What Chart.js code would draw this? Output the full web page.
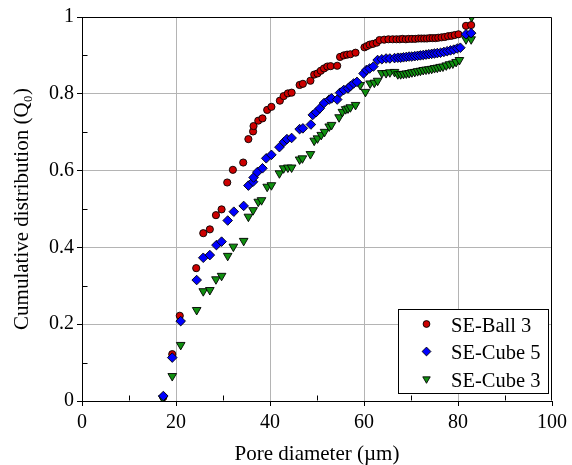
<!DOCTYPE html>
<html>
<head>
<meta charset="utf-8">
<script src="https://cdn.jsdelivr.net/npm/chart.js@4.4.1/dist/chart.umd.min.js"></script>
<style>
  html, body { margin: 0; padding: 0; background: #fff; }
  #c { display: block; }
</style>
</head>
<body>
<canvas id="c" width="572" height="465"></canvas>
<script>
// Pore diameter (µm) and cumulative distribution Q0 for each sample
const ballX = [17.3, 19.2, 20.8, 24.3, 25.8, 27.2, 28.5, 29.7, 30.9, 32.1, 34.3, 35.4, 36.4, 36.5, 37.5, 38.4, 39.4, 40.3, 42.1, 42.9, 43.8, 44.6, 46.3, 47.0, 48.6, 49.4, 50.1, 50.8, 51.5, 52.2, 52.9, 54.3, 54.9, 55.7, 56.4, 57.1, 58.2, 60.1, 60.6, 61.2, 61.9, 62.7, 63.3, 64.3, 65.2, 66.1, 66.9, 67.6, 68.2, 68.9, 69.5, 70.2, 70.9, 71.6, 72.2, 72.8, 73.4, 74.0, 74.6, 75.2, 75.8, 76.5, 77.2, 77.9, 78.6, 79.3, 80.1, 81.7, 82.8];
const ballY = [0.010, 0.122, 0.222, 0.346, 0.437, 0.447, 0.484, 0.499, 0.569, 0.602, 0.621, 0.682, 0.702, 0.716, 0.730, 0.736, 0.758, 0.766, 0.782, 0.794, 0.801, 0.803, 0.823, 0.826, 0.834, 0.850, 0.853, 0.860, 0.866, 0.871, 0.872, 0.873, 0.896, 0.900, 0.902, 0.903, 0.907, 0.921, 0.924, 0.928, 0.930, 0.933, 0.940, 0.941, 0.942, 0.942, 0.942, 0.942, 0.943, 0.942, 0.943, 0.943, 0.943, 0.944, 0.944, 0.944, 0.944, 0.945, 0.945, 0.945, 0.946, 0.947, 0.948, 0.950, 0.951, 0.953, 0.955, 0.977, 0.979];

const cube5X = [17.3, 19.2, 21.0, 24.4, 25.8, 27.2, 28.6, 29.7, 31.0, 32.3, 34.4, 35.4, 36.4, 36.5, 37.3, 38.4, 39.2, 40.3, 42.0, 43.0, 43.6, 44.6, 46.3, 47.0, 48.7, 49.1, 49.8, 50.6, 51.5, 52.6, 53.1, 54.3, 54.9, 55.7, 56.6, 57.1, 57.8, 58.5, 59.9, 60.5, 61.2, 62.0, 62.9, 63.8, 64.7, 65.5, 66.5, 67.2, 67.8, 68.4, 69.0, 69.6, 70.2, 70.8, 71.4, 72.0, 72.6, 73.2, 73.8, 74.4, 75.0, 75.6, 76.3, 77.0, 77.7, 78.4, 79.1, 79.8, 80.5, 81.7, 82.8];
const cube5Y = [0.013, 0.113, 0.208, 0.315, 0.373, 0.380, 0.406, 0.415, 0.470, 0.493, 0.508, 0.561, 0.571, 0.582, 0.596, 0.606, 0.632, 0.641, 0.661, 0.675, 0.682, 0.685, 0.708, 0.710, 0.720, 0.745, 0.752, 0.762, 0.776, 0.785, 0.788, 0.785, 0.803, 0.810, 0.814, 0.820, 0.827, 0.831, 0.853, 0.862, 0.866, 0.871, 0.888, 0.890, 0.892, 0.892, 0.893, 0.894, 0.894, 0.895, 0.896, 0.897, 0.897, 0.898, 0.899, 0.900, 0.901, 0.902, 0.903, 0.904, 0.905, 0.906, 0.907, 0.909, 0.911, 0.913, 0.915, 0.918, 0.920, 0.955, 0.958];

const cube3X = [17.2, 19.2, 21.0, 24.4, 25.8, 27.2, 28.5, 29.7, 31.0, 32.2, 34.4, 35.4, 36.4, 37.5, 38.2, 39.4, 40.3, 42.0, 42.9, 43.8, 44.6, 46.3, 46.9, 48.6, 49.4, 50.1, 50.9, 51.6, 52.6, 53.1, 54.7, 55.4, 56.1, 56.6, 57.1, 58.2, 59.2, 60.3, 61.3, 62.2, 62.9, 63.8, 64.7, 65.5, 66.5, 67.2, 67.8, 68.4, 69.0, 69.6, 70.2, 70.8, 71.4, 72.0, 72.6, 73.2, 73.8, 74.4, 75.0, 75.6, 76.2, 76.8, 77.5, 78.2, 78.9, 79.6, 80.3, 81.7, 82.8, 82.9];
const cube3Y = [0.007, 0.065, 0.146, 0.237, 0.286, 0.289, 0.317, 0.326, 0.378, 0.402, 0.417, 0.480, 0.497, 0.519, 0.523, 0.558, 0.562, 0.593, 0.606, 0.608, 0.608, 0.629, 0.632, 0.643, 0.678, 0.684, 0.693, 0.701, 0.715, 0.719, 0.739, 0.753, 0.760, 0.762, 0.765, 0.771, 0.823, 0.805, 0.827, 0.829, 0.834, 0.854, 0.854, 0.856, 0.857, 0.851, 0.851, 0.852, 0.853, 0.854, 0.856, 0.857, 0.859, 0.860, 0.862, 0.863, 0.864, 0.865, 0.867, 0.868, 0.870, 0.871, 0.874, 0.877, 0.879, 0.883, 0.888, 0.942, 0.942, 1.000];

const seriesNames = ['SE-Ball 3', 'SE-Cube 5', 'SE-Cube 3'];

// Axis ticks
const xTicks = [0, 20, 40, 60, 80, 100];
const xMinor = [10, 30, 50, 70, 90];
const yTicks = [0, 0.2, 0.4, 0.6, 0.8, 1];
const yMinor = [0.1, 0.3, 0.5, 0.7, 0.9];

const SERIF = "'Times New Roman', 'Liberation Serif', serif";
const GRID = '#b4b4b4';

function pairs(xs, ys) { return xs.map((x, i) => ({ x: x, y: ys[i] })); }

const styles = [
  { pointStyle: 'circle',  radius: 3.6, rotation: 0,   color: '#cc0000' },
  { pointStyle: 'rectRot', radius: 4.8, rotation: 0,   color: '#0000ff' },
  { pointStyle: 'triangle', radius: 5.0, rotation: 180, color: '#109010' }
];

function makeSet(i, xs, ys, order) {
  const s = styles[i];
  return {
    label: seriesNames[i],
    data: pairs(xs, ys),
    showLine: false,
    pointStyle: s.pointStyle,
    pointRadius: s.radius,
    pointRotation: s.rotation,
    pointBackgroundColor: s.color,
    pointBorderColor: '#000',
    pointBorderWidth: 0.9,
    order: order,
    clip: 0
  };
}

// Frame, inward minor ticks and the boxed legend
const framePlugin = {
  id: 'frame',
  afterDatasetsDraw(chart) {
    const ctx = chart.ctx;
    const a = chart.chartArea;
    const xs = chart.scales.x, ys = chart.scales.y;
    ctx.save();
    ctx.strokeStyle = '#000';
    ctx.lineWidth = 1;
    ctx.beginPath();
    const L = Math.round(a.left) + 0.5, R = Math.round(a.right) - 0.5;
    const T = Math.round(a.top) + 0.5, B = Math.round(a.bottom) - 0.5;
    ctx.moveTo(L, T); ctx.lineTo(R, T); ctx.lineTo(R, B);
    xMinor.forEach(v => {
      const p = Math.round(xs.getPixelForValue(v)) + 0.5;
      ctx.moveTo(p, B); ctx.lineTo(p, B - 5);
    });
    yMinor.forEach(v => {
      const p = Math.round(ys.getPixelForValue(v)) + 0.5;
      ctx.moveTo(L, p); ctx.lineTo(L + 5, p);
    });
    ctx.stroke();
    ctx.restore();
  },
  afterDraw(chart) {
    const ctx = chart.ctx;
    const bx = 398.5, by = 309.5, bw = 150, bh = 84;
    ctx.save();
    ctx.fillStyle = '#fff';
    ctx.fillRect(bx, by, bw, bh);
    ctx.strokeStyle = '#000';
    ctx.lineWidth = 1;
    ctx.strokeRect(bx, by, bw, bh);
    const rowsY = [324, 351.5, 379];
    const sizes = [3.4, 4.4, 4.3];
    seriesNames.forEach((name, i) => {
      const s = styles[i];
      ctx.fillStyle = s.color;
      ctx.strokeStyle = '#000';
      ctx.lineWidth = 0.9;
      Chart.helpers.drawPoint(ctx, {
        pointStyle: s.pointStyle,
        radius: sizes[i],
        rotation: s.rotation,
        borderWidth: 0.9
      }, 426.5, rowsY[i]);
      ctx.fillStyle = '#000';
      ctx.font = '20.5px ' + SERIF;
      ctx.textAlign = 'left';
      ctx.textBaseline = 'alphabetic';
      ctx.fillText(name, 451, rowsY[i] + 7.6);
    });
    ctx.restore();
  }
};

const tickFont = { family: SERIF, size: 20 };
const titleFont = { family: SERIF, size: 21, lineHeight: 1 };

new Chart(document.getElementById('c'), {
  type: 'scatter',
  data: {
    datasets: [
      makeSet(0, ballX, ballY, 2),
      makeSet(1, cube5X, cube5Y, 0),
      makeSet(2, cube3X, cube3Y, 1)
    ]
  },
  options: {
    responsive: false,
    animation: false,
    devicePixelRatio: 1,
    layout: { padding: { left: 0, right: 15, top: 17, bottom: 0 } },
    plugins: { legend: { display: false }, tooltip: { enabled: false } },
    scales: {
      x: {
        type: 'linear',
        position: 'bottom',
        min: 0,
        max: 100,
        afterBuildTicks(s) { s.ticks = xTicks.map(v => ({ value: v })); },
        afterFit(s) { s.height = 64; },
        ticks: { font: tickFont, color: '#000', padding: 5, maxRotation: 0, autoSkip: false, callback: v => String(v) },
        grid: {
          color: c => (c.tick && (c.tick.value === 0 || c.tick.value === 100)) ? 'rgba(0,0,0,0)' : GRID,
          tickColor: '#000',
          tickLength: 5,
          lineWidth: 1
        },
        border: { color: '#000', width: 1 },
        title: { display: true, text: 'Pore diameter (µm)', font: titleFont, color: '#000', padding: { top: 0, bottom: 0 } }
      },
      y: {
        type: 'linear',
        position: 'left',
        min: 0,
        max: 1,
        afterBuildTicks(s) { s.ticks = yTicks.map(v => ({ value: v })); },
        afterFit(s) { s.width = 82; },
        ticks: { font: tickFont, color: '#000', padding: 3, autoSkip: false, callback: v => String(v) },
        grid: {
          color: c => (c.tick && (c.tick.value === 0 || c.tick.value === 1)) ? 'rgba(0,0,0,0)' : GRID,
          tickColor: '#000',
          tickLength: 5,
          lineWidth: 1
        },
        border: { color: '#000', width: 1 },
        title: { display: true, text: 'Cumulative distribution (Q\u2080)', font: titleFont, color: '#000', padding: { top: 12, bottom: 0 } }
      }
    }
  },
  plugins: [framePlugin]
});
</script>
</body>
</html>
